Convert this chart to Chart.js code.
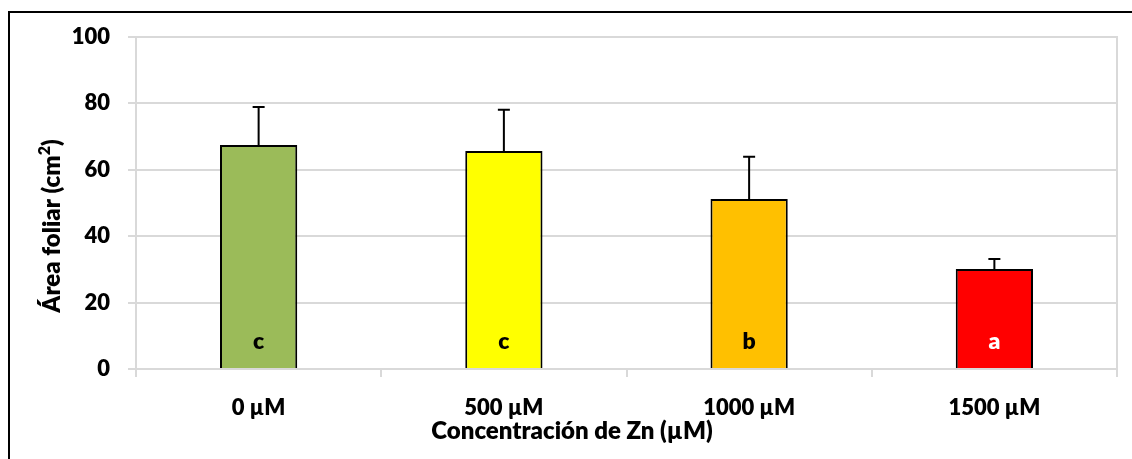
<!DOCTYPE html>
<html>
<head>
<meta charset="utf-8">
<script src="https://cdn.jsdelivr.net/npm/chart.js@4/dist/chart.umd.min.js"></script>
<style>
    body { margin: 0; background: #fff; }
    #wrap { position: relative; width: 1132px; height: 459px; overflow: hidden; }
    #frame { position: absolute; left: 8px; top: 11px; width: 1200px; height: 500px;
             border-left: 2px solid #000; border-top: 2px solid #000; }
    #chart { position: absolute; left: 0; top: 0; }
</style>
</head>
<body>
<div id="wrap">
    <div id="frame"></div>
    <canvas id="chart" width="1132" height="459"></canvas>
</div>
<script>
// Data
const categories = ['0 µM', '500 µM', '1000 µM', '1500 µM'];
const leafArea = [67.5, 65.7, 51.2, 30.1];
const errors = [11.4, 12.4, 12.7, 3.0];
const letters = ['c', 'c', 'b', 'a'];
const letterColors = ['#000', '#000', '#000', '#fff'];
const barColors = ['#9BBB59', '#FFFF00', '#FFC000', '#FF0000'];
const yTicks = [0, 20, 40, 60, 80, 100];

const xTitle = 'Concentración de Zn (µM)';
const yTitle = 'Área foliar (cm';

const FONT = 'Lato, "Open Sans", sans-serif';
const W = '800';
const GRID = '#d9d9d9';

// Error bars, letters, axis titles and right border of plot
const extrasPlugin = {
    id: 'extras',
    afterDatasetsDraw(chart) {
        const ctx = chart.ctx;
        const meta = chart.getDatasetMeta(0);
        const y = chart.scales.y;
        const area = chart.chartArea;

        ctx.save();
        ctx.strokeStyle = GRID;
        ctx.lineWidth = 2;
        ctx.beginPath();
        ctx.moveTo(area.right, area.top - 1);
        ctx.lineTo(area.right, area.bottom + 8);
        ctx.stroke();

        ctx.strokeStyle = '#000';
        ctx.lineWidth = 2;
        meta.data.forEach((bar, i) => {
            const top = y.getPixelForValue(leafArea[i]);
            const end = y.getPixelForValue(leafArea[i] + errors[i]);
            ctx.beginPath();
            ctx.moveTo(bar.x, top);
            ctx.lineTo(bar.x, end);
            ctx.moveTo(bar.x - 6, end);
            ctx.lineTo(bar.x + 6, end);
            ctx.stroke();

            ctx.fillStyle = letterColors[i];
            ctx.font = W + ' 23px ' + FONT;
            ctx.textAlign = 'center';
            ctx.textBaseline = 'middle';
            ctx.fillText(letters[i], bar.x, y.getPixelForValue(8.4));
        });

        // x title
        ctx.fillStyle = '#000';
        ctx.font = W + ' 24px ' + FONT;
        ctx.textAlign = 'center';
        ctx.textBaseline = 'middle';
        ctx.fillText(xTitle, 572, 431);

        // y title with superscript 2
        ctx.translate(52, 226);
        ctx.rotate(-Math.PI / 2);
        ctx.font = W + ' 24px ' + FONT;
        const w1 = ctx.measureText(yTitle).width;
        ctx.font = W + ' 16px ' + FONT;
        const w2 = ctx.measureText('2').width;
        ctx.font = W + ' 24px ' + FONT;
        const w3 = ctx.measureText(')').width;
        let x0 = -(w1 + w2 + w3) / 2;
        ctx.textAlign = 'left';
        ctx.fillText(yTitle, x0, 0);
        ctx.font = W + ' 16px ' + FONT;
        ctx.fillText('2', x0 + w1, -7);
        ctx.font = W + ' 24px ' + FONT;
        ctx.fillText(')', x0 + w1 + w2, 0);
        ctx.restore();
    }
};

new Chart(document.getElementById('chart'), {
    type: 'bar',
    data: {
        labels: categories,
        datasets: [{
            data: leafArea,
            backgroundColor: barColors,
            borderColor: '#000',
            borderWidth: 2,
            barPercentage: 0.315,
            categoryPercentage: 1
        }]
    },
    options: {
        responsive: false,
        animation: false,
        layout: { padding: { top: 37, right: 15, left: 20, bottom: 0 } },
        plugins: {
            legend: { display: false },
            tooltip: { enabled: false }
        },
        scales: {
            x: {
                grid: { drawOnChartArea: false, color: GRID, lineWidth: 2, tickLength: 8, offset: true },
                border: { display: false },
                ticks: { color: '#000', font: { family: FONT, size: 22, weight: W }, padding: 18 },
                afterFit(scale) { scale.height = 90; }
            },
            y: {
                min: 0,
                max: 100,
                afterBuildTicks(scale) { scale.ticks = yTicks.map(v => ({ value: v })); },
                grid: { color: GRID, lineWidth: 2, tickLength: 8 },
                border: { color: GRID, width: 2 },
                ticks: { color: '#000', font: { family: FONT, size: 22, weight: W }, padding: 18 },
                afterFit(scale) { scale.width = 116; }
            }
        }
    },
    plugins: [extrasPlugin]
});
</script>
</body>
</html>
